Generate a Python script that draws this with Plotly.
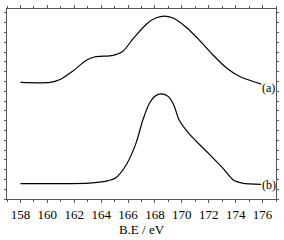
import plotly.graph_objects as go

# Binding energy (eV) and intensities (arbitrary units, offset stacked)
be_a = [158.0, 160.2, 160.9, 161.9, 162.9, 163.5, 164.9, 165.6, 166.4, 167.4,
        168.1, 168.7, 169.3, 170.3, 171.3, 172.3, 173.3, 174.3, 175.3, 175.9]
int_a = [119, 119, 121.7, 130.7, 141.7, 145, 146.7, 150.7, 164, 179,
         185, 186.7, 185, 175.7, 162.3, 147.3, 134, 125, 120, 117.3]

be_b = [158.0, 163.1, 164.4, 165.1, 165.9, 166.6, 167.1, 167.6, 168.0, 168.5, 169.0,
        169.4, 169.8, 170.6, 171.8, 173.1, 173.8, 174.5, 175.9]
int_b = [15.7, 16.3, 18.3, 21.7, 35.7, 57.3, 80.7, 98, 105, 107.3, 104.5,
         96, 80.7, 65.7, 49, 30.7, 19.7, 16.3, 15]

labels = ["(a)", "(b)"]
xticks = [158, 160, 162, 164, 166, 168, 170, 172, 174, 176]

serif = "Liberation Serif"
fig = go.Figure()
fig.add_trace(go.Scatter(x=be_a, y=int_a, mode="lines", line=dict(color="black", width=1.2, shape="spline", smoothing=0.8)))
fig.add_trace(go.Scatter(x=be_b, y=int_b, mode="lines", line=dict(color="black", width=1.2, shape="spline", smoothing=0.8)))

fig.add_annotation(x=be_a[-1], y=int_a[-1], text=labels[0], showarrow=False, xanchor="left", yanchor="middle",
                   xshift=-1, yshift=-4, font=dict(family=serif, size=12, color="black"))
fig.add_annotation(x=be_b[-1], y=int_b[-1], text=labels[1], showarrow=False, xanchor="left", yanchor="middle",
                   xshift=-1, yshift=-1, font=dict(family=serif, size=12, color="black"))

axcol = "#555555"
fig.update_layout(
    width=284, height=240, margin=dict(l=7, r=7, t=5, b=41),
    paper_bgcolor="white", plot_bgcolor="white", showlegend=False,
    xaxis=dict(range=[157, 177], tickvals=xticks, ticks="outside", ticklen=3, tickcolor=axcol,
               showline=True, linecolor=axcol, linewidth=1, mirror="ticks", showgrid=False, zeroline=False,
               minor=dict(dtick=1, ticks="outside", ticklen=2, tickcolor=axcol),
               tickfont=dict(family=serif, size=13, color="black"),
               title=dict(text="B.E / eV", font=dict(family=serif, size=13, color="black"), standoff=3)),
    yaxis=dict(range=[0, 194], dtick=10, ticks="outside", ticklen=2, tickcolor=axcol, showticklabels=False,
               showline=True, linecolor=axcol, linewidth=1, mirror="ticks", showgrid=False, zeroline=False),
)
fig.write_html("out.html")
